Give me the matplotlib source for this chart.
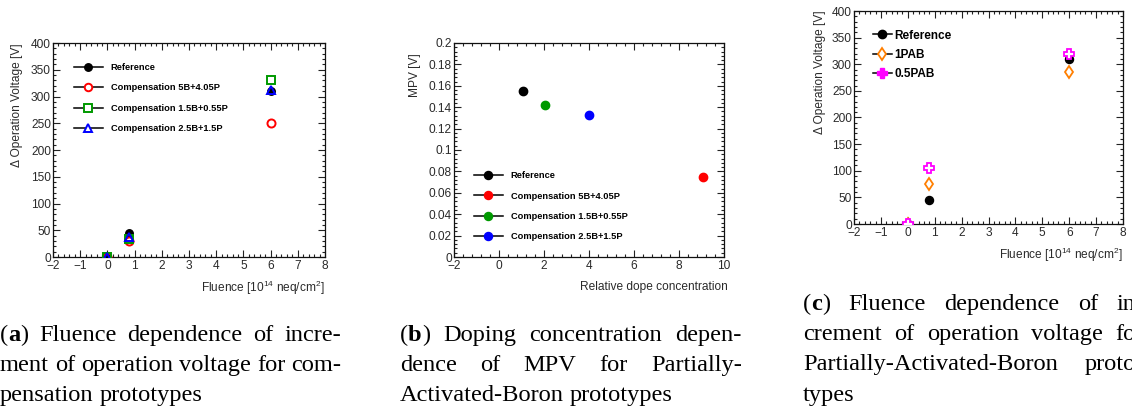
import matplotlib
matplotlib.use("Agg")
import matplotlib.pyplot as plt
from matplotlib.lines import Line2D
from matplotlib.ticker import MultipleLocator
import numpy as np

plt.rcParams['font.family'] = ['Liberation Sans', 'DejaVu Sans']
plt.rcParams['mathtext.default'] = 'regular'

# ---------------- data ----------------
# (a) compensation prototypes: fluence vs delta operation voltage
fluence_a = [0.0, 0.8, 6.0]
ref_a = [0.0, 45.0, 310.0]
comp_5B405P = [0.0, 30.0, 250.0]
comp_15B055P = [0.0, 33.0, 330.0]
comp_25B15P = [0.0, 38.0, 313.0]
labels_a = ["Reference", "Compensation 5B+4.05P",
            "Compensation 1.5B+0.55P", "Compensation 2.5B+1.5P"]

# (b) MPV vs relative dope concentration
dope_b = [1.05, 9.05, 2.05, 4.02]
mpv_b = [0.155, 0.075, 0.142, 0.133]
labels_b = ["Reference", "Compensation 5B+4.05P",
            "Compensation 1.5B+0.55P", "Compensation 2.5B+1.5P"]

# (c) partially activated boron prototypes
fluence_c = [0.0, 0.8, 6.0]
ref_c = [0.0, 45.0, 310.0]
pab_1 = [0.0, 75.0, 285.0]
pab_05 = [0.0, 105.0, 320.0]
labels_c = ["Reference", "1PAB", "0.5PAB"]

xlabel_fluence = "Fluence [10$^{14}$ neq/cm$^{2}$]"
ylabel_dv = "\u0394 Operation Voltage [V]"
xlabel_dope = "Relative dope concentration"
ylabel_mpv = "MPV [V]"

captions = {
    'a': [["(", "a", ")", "Fluence", "dependence", "of", "incre-"],
          ["ment", "of", "operation", "voltage", "for", "com-"],
          ["pensation", "prototypes"]],
    'b': [["(", "b", ")", "Doping", "concentration", "depen-"],
          ["dence", "of", "MPV", "for", "Partially-"],
          ["Activated-Boron", "prototypes"]],
    'c': [["(", "c", ")", "Fluence", "dependence", "of", "in-"],
          ["crement", "of", "operation", "voltage", "for"],
          ["Partially-Activated-Boron", "proto-"],
          ["types"]],
}

# ---------------- style ----------------
W, H = 1132, 411
fig = plt.figure(figsize=(W / 100, H / 100), dpi=100)

RED = '#ff0000'
GREEN = '#009900'
BLUE = '#0000ff'
ORANGE = '#ff7f00'
MAGENTA = '#ff00ff'
TICKC = '#2a2a2a'


def px_axes(l, r, t, b):
    return [l / W, (H - b) / H, (r - l) / W, (b - t) / H]


def root_style(ax, xmaj, xmin, ymaj, ymin):
    ax.xaxis.set_major_locator(MultipleLocator(xmaj))
    ax.xaxis.set_minor_locator(MultipleLocator(xmin))
    ax.yaxis.set_major_locator(MultipleLocator(ymaj))
    ax.yaxis.set_minor_locator(MultipleLocator(ymin))
    ax.tick_params(which='both', direction='in', top=True, right=True,
                   labelsize=8.6, labelcolor=TICKC, color='#222222', width=0.8)
    ax.tick_params(which='major', length=4.8)
    ax.tick_params(which='minor', length=2.4)
    ax.tick_params(axis='x', pad=2.5)
    ax.tick_params(axis='y', pad=1.5)
    for s in ax.spines.values():
        s.set_linewidth(0.9)
        s.set_color('#111111')


def fmt_label(v, pos):
    if abs(v) < 1e-12:
        return "0"
    s = "%g" % v
    return s.replace("-", "\u2212")


LEG_AB = {'weight': 'bold', 'size': 6.7}
LEG_C = {'weight': 'bold', 'size': 8.5}

# ---------------- panel (a) ----------------
axa = fig.add_axes(px_axes(53, 325, 43, 257))
axa.plot(fluence_a, ref_a, 'o', color='black', ms=5.4, zorder=3)
axa.plot(fluence_a, comp_5B405P, 'o', mfc='none', mec=RED, mew=1.4, ms=5.8, zorder=3)
axa.plot(fluence_a, comp_15B055P, 's', mfc='none', mec=GREEN, mew=1.4, ms=5.8, zorder=3)
axa.plot(fluence_a, comp_25B15P, '^', mfc='none', mec=BLUE, mew=1.4, ms=6.2, zorder=3)
axa.set_xlim(-2, 8)
axa.set_ylim(0, 400)
root_style(axa, 1, 0.2, 50, 10)
axa.xaxis.set_major_formatter(fmt_label)
axa.yaxis.set_major_formatter(fmt_label)
axa.text(1.0, -0.145, xlabel_fluence, transform=axa.transAxes, ha='right',
         va='center', fontsize=8.6, color=TICKC)
axa.text(-0.133, 1.0, ylabel_dv, transform=axa.transAxes, rotation=90,
         ha='center', va='top', fontsize=8.6, color=TICKC)
handles_a = [
    Line2D([], [], color='black', lw=1.1, marker='o', ms=5.4, mfc='black', mec='black'),
    Line2D([], [], color='black', lw=1.1, marker='o', ms=5.4, mfc='white', mec=RED, mew=1.4),
    Line2D([], [], color='black', lw=1.1, marker='s', ms=5.4, mfc='white', mec=GREEN, mew=1.4),
    Line2D([], [], color='black', lw=1.1, marker='^', ms=5.8, mfc='white', mec=BLUE, mew=1.4),
]
axa.legend(handles_a, labels_a, loc='upper left', bbox_to_anchor=(0.077, 0.906),
           frameon=False, borderpad=0, borderaxespad=0, handlelength=3.1,
           handletextpad=0.86, labelspacing=1.22, prop=LEG_AB)

# ---------------- panel (b) ----------------
axb = fig.add_axes(px_axes(454, 724, 43, 257))
colors_b = ['black', RED, GREEN, BLUE]
for xv, yv, c in zip(dope_b, mpv_b, colors_b):
    axb.plot([xv], [yv], 'o', color=c, ms=6.0, zorder=3)
axb.set_xlim(-2, 10)
axb.set_ylim(0, 0.2)
root_style(axb, 2, 0.4, 0.02, 0.004)
axb.xaxis.set_major_formatter(fmt_label)
axb.yaxis.set_major_formatter(fmt_label)
axb.text(1.015, -0.14, xlabel_dope, transform=axb.transAxes, ha='right',
         va='center', fontsize=8.6, color=TICKC)
axb.text(-0.144, 0.953, ylabel_mpv, transform=axb.transAxes, rotation=90,
         ha='center', va='top', fontsize=8.6, color=TICKC)
handles_b = [Line2D([], [], color='black', lw=1.1, marker='o', ms=5.8, mfc=c, mec=c)
             for c in colors_b]
axb.legend(handles_b, labels_b, loc='upper left', bbox_to_anchor=(0.074, 0.401),
           frameon=False, borderpad=0, borderaxespad=0, handlelength=3.1,
           handletextpad=0.86, labelspacing=1.22, prop=LEG_AB)

# ---------------- panel (c) ----------------
axc = fig.add_axes(px_axes(854, 1123, 11, 224))
axc.plot(fluence_c, ref_c, 'o', color='black', ms=5.8, zorder=3)
axc.plot(fluence_c, pab_1, 'd', mfc='none', mec=ORANGE, mew=1.3, ms=6.0, zorder=3)
axc.plot(fluence_c, pab_05, 'P', mfc='white', mec=MAGENTA, mew=1.3, ms=7.0, zorder=3)
axc.set_xlim(-2, 8)
axc.set_ylim(0, 400)
root_style(axc, 1, 0.2, 50, 10)
axc.xaxis.set_major_formatter(fmt_label)
axc.yaxis.set_major_formatter(fmt_label)
axc.text(1.0, -0.146, xlabel_fluence, transform=axc.transAxes, ha='right',
         va='center', fontsize=8.6, color=TICKC)
axc.text(-0.126, 1.005, ylabel_dv, transform=axc.transAxes, rotation=90,
         ha='center', va='top', fontsize=8.6, color=TICKC)
handles_c = [
    Line2D([], [], color='black', lw=1.1, marker='o', ms=6.0, mfc='black', mec='black'),
    Line2D([], [], color='black', lw=1.1, marker='d', ms=6.2, mfc='white', mec=ORANGE, mew=1.3),
    Line2D([], [], color='black', lw=1.1, marker='P', ms=7.2, mfc=MAGENTA, mec=MAGENTA, mew=1.0),
]
axc.legend(handles_c, labels_c, loc='upper left', bbox_to_anchor=(0.0706, 0.913),
           frameon=False, borderpad=0, borderaxespad=0, handlelength=1.6,
           handletextpad=0.2, labelspacing=0.61, prop=LEG_C)

# ---------------- captions (justified) ----------------
CAP_FS = 17.6
CAP_FAMILY = ['Liberation Serif', 'DejaVu Serif']
renderer = fig.canvas.get_renderer()


def word_width(txt, weight='normal'):
    t = fig.text(0, 0, txt, fontsize=CAP_FS, family=CAP_FAMILY, weight=weight)
    w = t.get_window_extent(renderer).width
    t.remove()
    return w


def draw_line(words, x0, x1, yc, justify, has_label):
    groups = []
    i = 0
    if has_label:
        groups.append([(words[0], 'normal'), (words[1], 'bold'), (words[2], 'normal')])
        i = 3
    for w in words[i:]:
        groups.append([(w, 'normal')])
    gw = [sum(word_width(t, wt) for t, wt in g) for g in groups]
    natural_space = word_width("a b") - word_width("ab")
    if justify and len(groups) > 1:
        space = max((x1 - x0 - sum(gw)) / (len(groups) - 1), 0.4 * natural_space)
    else:
        space = natural_space
    x = x0
    for g, w in zip(groups, gw):
        xx = x
        for t, wt in g:
            fig.text(xx / W, (H - yc) / H, t, fontsize=CAP_FS, family=CAP_FAMILY,
                     weight=wt, ha='left', va='center_baseline', color='black')
            xx += word_width(t, wt)
        x += w + space


cap_layout = {
    'a': (0, 341, [333, 363, 393]),
    'b': (400, 742, [333, 363, 393]),
    'c': (803, 1144, [302, 332, 362, 393]),
}
for key, (x0, x1, ys) in cap_layout.items():
    lines = captions[key]
    for li, (words, yc) in enumerate(zip(lines, ys)):
        last = li == len(lines) - 1
        draw_line(words, x0, x1, yc, justify=not last, has_label=(li == 0))

fig.savefig("out.png", dpi=100)
